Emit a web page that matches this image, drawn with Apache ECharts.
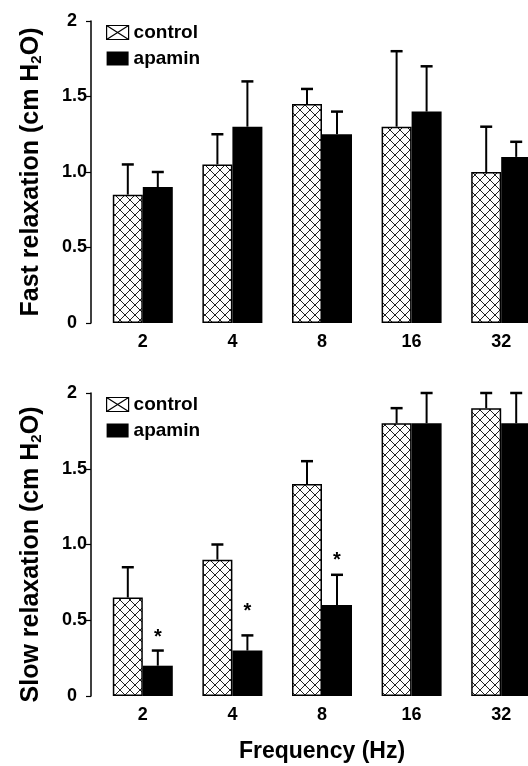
<!DOCTYPE html>
<html>
<head>
<meta charset="utf-8">
<script src="https://cdn.jsdelivr.net/npm/echarts@6/dist/echarts.min.js"></script>
<style>
html, body { margin: 0; padding: 0; background: #fff; }
#main { width: 528px; height: 766px; }
</style>
</head>
<body>
<div id="main"></div>
<script>
// data
var frequencies = ['2', '4', '8', '16', '32'];
var yTicks = ['0', '0.5', '1.0', '1.5', '2'];

var fastControl = [0.85, 1.05, 1.45, 1.3, 1.0];
var fastControlErr = [0.2, 0.2, 0.1, 0.5, 0.3];
var fastApamin = [0.9, 1.3, 1.25, 1.4, 1.1];
var fastApaminErr = [0.1, 0.3, 0.15, 0.3, 0.1];

var slowControl = [0.65, 0.9, 1.4, 1.8, 1.9];
var slowControlErr = [0.2, 0.1, 0.15, 0.1, 0.1];
var slowApamin = [0.2, 0.3, 0.6, 1.8, 1.8];
var slowApaminErr = [0.1, 0.1, 0.2, 0.2, 0.2];
var slowStars = [0.42, 0.59, 0.93, null, null]; // where the * marks sit

var FONT = 'Liberation Sans, Arial, sans-serif';
var BAR_W = 30;

// cross hatch tile for the control bars
var tile = document.createElement('canvas');
tile.width = 10;
tile.height = 10;
var ctx = tile.getContext('2d');
ctx.fillStyle = '#fff';
ctx.fillRect(0, 0, 10, 10);
ctx.strokeStyle = '#222';
ctx.lineWidth = 1;
ctx.beginPath();
ctx.moveTo(0, 0); ctx.lineTo(10, 10);
ctx.moveTo(10, 0); ctx.lineTo(0, 10);
ctx.stroke();
var hatch = { image: tile, repeat: 'repeat' };

function barSeries(name, values, idx) {
  var isCtl = name === 'control';
  return {
    name: name,
    type: 'bar',
    xAxisIndex: idx,
    yAxisIndex: idx,
    barWidth: BAR_W,
    barGap: '0%',
    data: values,
    itemStyle: {
      color: isCtl ? hatch : '#000',
      borderColor: '#000',
      borderWidth: isCtl ? 1.5 : 0
    },
    silent: true
  };
}

function errorSeries(means, errs, idx, shift) {
  return {
    type: 'custom',
    xAxisIndex: idx,
    yAxisIndex: idx,
    silent: true,
    z: 3,
    data: means.map(function (m, i) { return [i, m, m + errs[i]]; }),
    renderItem: function (params, api) {
      var lo = api.coord([api.value(0), api.value(1)]);
      var hi = api.coord([api.value(0), api.value(2)]);
      var x = lo[0] + shift;
      return {
        type: 'group',
        children: [
          { type: 'line', shape: { x1: x, y1: lo[1], x2: x, y2: hi[1] }, style: { stroke: '#000', lineWidth: 2 } },
          { type: 'line', shape: { x1: x - 6, y1: hi[1], x2: x + 6, y2: hi[1] }, style: { stroke: '#000', lineWidth: 2.5 } }
        ]
      };
    }
  };
}

var starData = [];
slowStars.forEach(function (v, i) { if (v !== null) starData.push([i, v]); });

var axisText = { color: '#000', fontFamily: FONT, fontWeight: 'bold', fontSize: 18 };

function yAxis(idx, title, shiftDown) {
  return {
    type: 'value',
    gridIndex: idx,
    min: 0,
    max: 2,
    interval: 0.5,
    offset: 7,
    axisLine: { show: true, lineStyle: { color: '#000', width: 1.5 } },
    axisTick: { show: true, length: 5, lineStyle: { color: '#000', width: 1.2 } },
    splitLine: { show: false },
    axisLabel: Object.assign({}, axisText, {
      margin: 4,
      formatter: function (v) {
        var s = yTicks[Math.round(v * 2)];
        return s.length === 1 ? '{w|' + s + '}' : s;
      },
      rich: { w: Object.assign({}, axisText, { padding: [0, 10, 0, 0] }) }
    }),
    name: title + ' (cm H{sub|2}O)',
    nameLocation: 'middle',
    nameRotate: 90,
    nameGap: 47,
    nameTextStyle: {
      color: '#000', fontFamily: FONT, fontWeight: 'bold', fontSize: 25,
      padding: [0, shiftDown * 2, 0, 0],
      rich: {
        sub: { color: '#000', fontFamily: FONT, fontWeight: 'bold', fontSize: 15, lineHeight: 10, verticalAlign: 'bottom' }
      }
    }
  };
}

function xAxis(idx) {
  var ax = {
    type: 'category',
    gridIndex: idx,
    data: frequencies,
    axisLine: { show: false },
    axisTick: { show: false },
    axisLabel: Object.assign({}, axisText, { margin: 10 })
  };
  if (idx === 1) {
    ax.name = 'Frequency (Hz)';
    ax.nameLocation = 'middle';
    ax.nameGap = 44;
    ax.nameTextStyle = { color: '#000', fontFamily: FONT, fontWeight: 'bold', fontSize: 23 };
  }
  return ax;
}

function legend(top) {
  return {
    top: top,
    left: 106,
    padding: 0,
    orient: 'vertical',
    itemWidth: 22,
    itemHeight: 14,
    itemGap: 7,
    textStyle: { color: '#000', fontFamily: FONT, fontWeight: 'bold', fontSize: 19, lineHeight: 18 },
    data: [
      { name: 'control', icon: 'path://M0,0H22V14H0ZM0,0L22,14M22,0L0,14', itemStyle: { color: '#fff', borderColor: '#000', borderWidth: 1.2 } },
      { name: 'apamin', icon: 'rect', itemStyle: { color: '#000' } }
    ]
  };
}

var chart = echarts.init(document.getElementById('main'));
chart.setOption({
  animation: false,
  backgroundColor: '#fff',
  legend: [legend(23), legend(395)],
  grid: [
    { left: 98, top: 21, width: 448, height: 302, outerBoundsMode: 'none' },
    { left: 98, top: 393, width: 448, height: 303, outerBoundsMode: 'none' }
  ],
  xAxis: [xAxis(0), xAxis(1)],
  yAxis: [yAxis(0, 'Fast relaxation', 0), yAxis(1, 'Slow relaxation', 10)],
  series: [
    barSeries('control', fastControl, 0),
    barSeries('apamin', fastApamin, 0),
    barSeries('control', slowControl, 1),
    barSeries('apamin', slowApamin, 1),
    errorSeries(fastControl, fastControlErr, 0, -BAR_W / 2),
    errorSeries(fastApamin, fastApaminErr, 0, BAR_W / 2),
    errorSeries(slowControl, slowControlErr, 1, -BAR_W / 2),
    errorSeries(slowApamin, slowApaminErr, 1, BAR_W / 2),
    {
      type: 'custom',
      xAxisIndex: 1,
      yAxisIndex: 1,
      silent: true,
      z: 4,
      data: starData,
      renderItem: function (params, api) {
        var p = api.coord([api.value(0), api.value(1)]);
        return {
          type: 'text',
          x: p[0] + BAR_W / 2,
          y: p[1] + 5,
          style: { text: '*', fill: '#000', font: 'bold 20px ' + FONT, textAlign: 'center', textVerticalAlign: 'middle' }
        };
      }
    }
  ]
});
</script>
</body>
</html>
